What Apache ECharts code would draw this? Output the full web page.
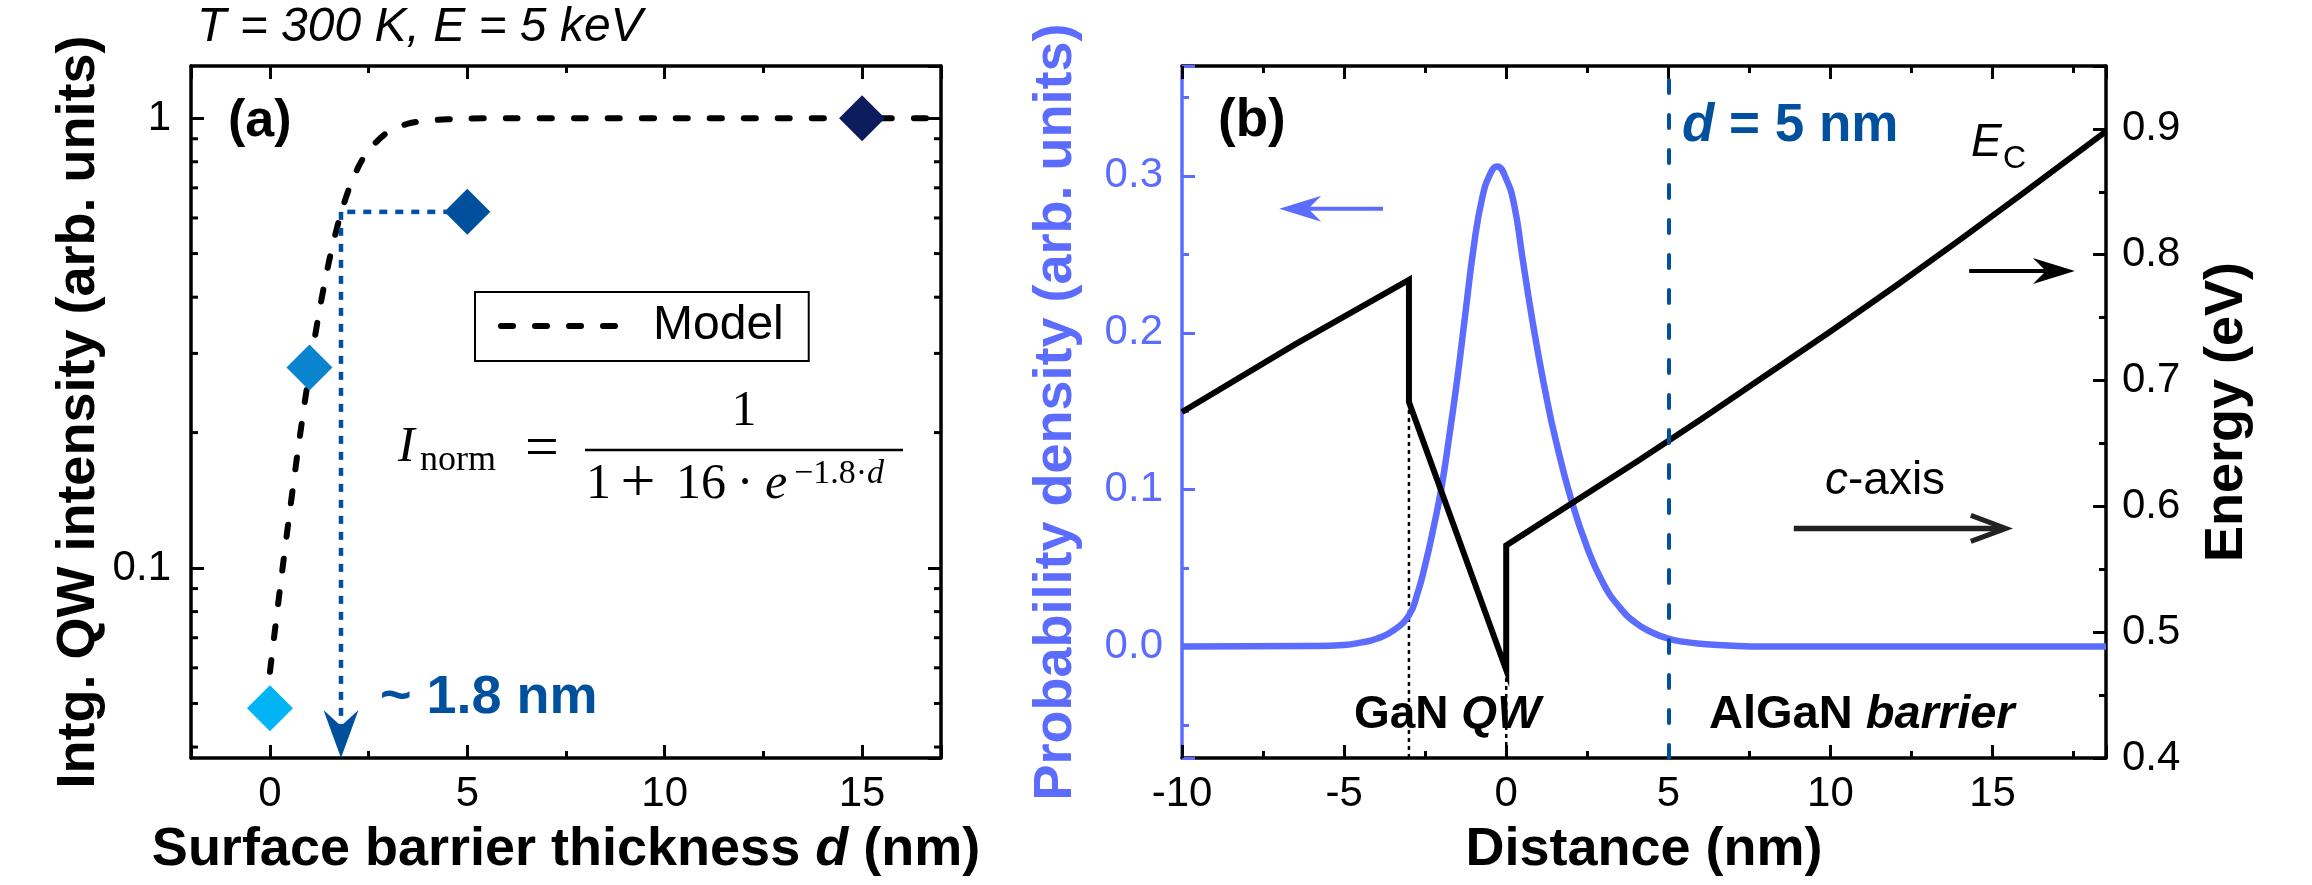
<!DOCTYPE html>
<html><head><meta charset="utf-8">
<script src="https://cdn.jsdelivr.net/npm/echarts@6/dist/echarts.min.js"></script>
<style>html,body{margin:0;padding:0;background:#fff}#c{width:2312px;height:885px}</style>
</head><body><div id="c"></div>
<script>
// ---------- Panel (a) data ----------
const thicknessD = [0, 1, 5, 15];
const intensityI = [0.0488, 0.279, 0.619, 1.0];
const modelD = [0, 0.25, 0.5, 0.75, 1, 1.25, 1.5, 1.75, 2, 2.25, 2.5, 3, 3.5, 4, 5, 6, 8, 10, 12.5, 15, 17];
const modelI = [0.0588, 0.0893, 0.133, 0.194, 0.274, 0.372, 0.482, 0.593, 0.696, 0.782, 0.849, 0.933, 0.972, 0.988, 0.998, 1.0, 1.0, 1.0, 1.0, 1.0, 1.0];
const markerD = 1.8;
const markerI = 0.619;
const logMinorTicks = [0.04, 0.05, 0.06, 0.07, 0.08, 0.09, 0.2, 0.3, 0.4, 0.5, 0.6, 0.7, 0.8, 0.9];
const rangeA = { xMin: -2, xMax: 17, yMin: 0.0378, yMax: 1.306 };

// ---------- Panel (b) data ----------
const distPD = [-10, -6, -5, -4.5, -4, -3.5, -3, -2.75, -2.5, -2.25, -2, -1.75, -1.5, -1.25, -1, -0.75, -0.5, -0.28, 0, 0.25, 0.5, 0.75, 1, 1.25, 1.5, 2, 2.5, 3, 3.5, 4, 4.5, 5, 5.5, 6, 7, 8, 18.5];
const probPD = [0, 0.0003, 0.001, 0.0025, 0.005, 0.010, 0.020, 0.033, 0.052, 0.075, 0.101, 0.135, 0.172, 0.214, 0.255, 0.285, 0.301, 0.306, 0.298, 0.281, 0.248, 0.215, 0.185, 0.158, 0.134, 0.094, 0.063, 0.040, 0.025, 0.015, 0.009, 0.005, 0.003, 0.0018, 0.0005, 0, 0];
const distEc = [-10, -6.5, -3, -3, 0, 0, 2, 4, 6, 8, 10, 12, 14, 16, 18.5];
const energyEc = [0.675, 0.729, 0.780, 0.683, 0.470, 0.569, 0.602, 0.635, 0.669, 0.704, 0.739, 0.775, 0.812, 0.850, 0.898];
const qwEdges = [-3, 0];
const qwEdgeEc = [0.683, 0.470];
const barrierD = 5;
const rangeB = { xMin: -10, xMax: 18.5, pMin: -0.071, pMax: 0.37, eMin: 0.4, eMax: 0.95 };
// annotation arrows: [x1, y1, x2, y2]
const arrowPD = [[-3.8, 0.279, -7.0, 0.279]];
const arrowEc = [[14.28, 0.787, 17.54, 0.787]];
const arrowCaxis = [[8.87, 0.5825, 15.41, 0.5825]];

// ---------- styles ----------
const SANS = 'Liberation Sans, Arial, sans-serif';
const SERIF = 'Liberation Serif, Times New Roman, serif';
const DARKBLUE = '#01509d';
const PDBLUE = '#5b6cff';
const diamondColors = ['#00b4f5', '#0a84cf', '#01509d', '#0c1c5c'];

const chart = echarts.init(document.getElementById('c'), null, { renderer: 'canvas' });

function tickCfg(color) {
  return {
    axisLine: { onZero: false, lineStyle: { color: color, width: 3.5 } },
    axisTick: { inside: true, length: 13, lineStyle: { color: color, width: 3 } },
    splitLine: { show: false }
  };
}
function labelCfg(color, margin, extra) {
  return Object.assign({ color: color, fontSize: 42, fontFamily: SANS, margin: margin, lineHeight: 42 }, extra || {});
}
function nameStyle(color) {
  return {
    color: color, fontSize: 54, fontWeight: 'bold', fontFamily: SANS, lineHeight: 60,
    rich: { i: { color: color, fontSize: 54, fontWeight: 'bold', fontStyle: 'italic', fontFamily: SANS, lineHeight: 60 } }
  };
}

function arrowSeries(xi, yi, data, color, width, head, opts) {
  opts = opts || {};
  return {
    type: 'custom', xAxisIndex: xi, yAxisIndex: yi, silent: true, z: 6,
    data: data, encode: { x: [0, 2], y: [1, 3] },
    renderItem: function (params, api) {
      const p1 = api.coord([api.value(0), api.value(1)]);
      const p2 = api.coord([api.value(2), api.value(3)]);
      const dx = p2[0] - p1[0], dy = p2[1] - p1[1], len = Math.hypot(dx, dy);
      const ux = dx / len, uy = dy / len, nx = -uy, ny = ux;
      const L = head[0], W = head[1], N = head[2];
      const bx = p2[0] - ux * L, by = p2[1] - uy * L;
      const mx = p2[0] - ux * N, my = p2[1] - uy * N;
      const children = [];
      if (opts.open) {
        children.push({ type: 'line', shape: { x1: p1[0], y1: p1[1], x2: p2[0] - ux * 2, y2: p2[1] - uy * 2 }, style: { stroke: color, lineWidth: width } });
        children.push({ type: 'polyline', shape: { points: [[bx + nx * W, by + ny * W], [p2[0], p2[1]], [bx - nx * W, by - ny * W]] }, style: { stroke: color, lineWidth: opts.headWidth || width, fill: null, lineJoin: 'miter' } });
      } else {
        children.push({ type: 'line', shape: { x1: p1[0], y1: p1[1], x2: mx, y2: my }, style: { stroke: color, lineWidth: width, lineDash: opts.dash || null } });
        children.push({ type: 'polygon', shape: { points: [[p2[0], p2[1]], [bx + nx * W, by + ny * W], [mx, my], [bx - nx * W, by - ny * W]] }, style: { fill: color } });
      }
      return { type: 'group', children: children };
    }
  };
}

function gtext(x, base, text, o) {
  const size = o.size;
  const st = {
    text: text, fill: o.color || '#000', fontSize: size, fontWeight: o.weight || 'normal',
    fontStyle: o.style || 'normal', fontFamily: o.family || SANS, align: o.align || 'left', verticalAlign: 'middle'
  };
  if (o.rich) st.rich = o.rich;
  const y = o.center ? base : base - 0.3 * size;
  return { type: 'text', x: x, y: y, silent: true, z: 10, style: st };
}
function richTok(size, weight, style, color, family) {
  return { fontSize: size, fontWeight: weight, fontStyle: style, fill: color, color: color, fontFamily: family || SANS };
}

const graphics = [
  gtext(197, 42, 'T = 300 K, E = 5 keV', { size: 48, style: 'italic' }),
  gtext(228, 137, '(a)', { size: 52, weight: 'bold' }),
  gtext(1218, 137, '(b)', { size: 53, weight: 'bold' }),
  gtext(380, 714, '~ 1.8 nm', { size: 54, weight: 'bold', color: DARKBLUE }),
  gtext(1682, 142, '{i|d} = 5 nm', { size: 53, weight: 'bold', color: DARKBLUE, rich: { i: richTok(53, 'bold', 'italic', DARKBLUE) } }),
  gtext(1971, 157, 'E', { size: 46, style: 'italic' }),
  gtext(2003, 169, 'C', { size: 32 }),
  gtext(1825, 495, '{i|c}-axis', { size: 46, rich: { i: richTok(46, 'normal', 'italic', '#000') } }),
  gtext(1354, 729, 'GaN {i|QW}', { size: 46, weight: 'bold', rich: { i: richTok(46, 'bold', 'italic', '#000') } }),
  gtext(1709, 729, 'AlGaN {i|barrier}', { size: 47, weight: 'bold', rich: { i: richTok(47, 'bold', 'italic', '#000') } }),
  // formula
  gtext(398, 463, 'I', { size: 50, style: 'italic', family: SERIF }),
  gtext(420, 471, 'norm', { size: 36, family: SERIF }),
  gtext(542, 450, '=', { size: 60, family: SERIF, align: 'center', center: true }),
  { type: 'line', silent: true, z: 10, shape: { x1: 585, y1: 450, x2: 903, y2: 450 }, style: { stroke: '#000', lineWidth: 2.5 } },
  gtext(744, 427, '1', { size: 50, family: SERIF, align: 'center' }),
  gtext(586, 500, '1', { size: 50, family: SERIF }),
  gtext(638, 485, '+', { size: 62, family: SERIF, align: 'center', center: true }),
  gtext(676, 500, '16', { size: 50, family: SERIF }),
  gtext(745, 485, '·', { size: 50, family: SERIF, align: 'center', center: true }),
  gtext(765, 500, 'e', { size: 50, style: 'italic', family: SERIF }),
  gtext(794, 484, '−1.8·{i|d}', { size: 34, family: SERIF, rich: { i: richTok(34, 'normal', 'italic', '#000', SERIF) } })
];

const option = {
  animation: false,
  backgroundColor: '#fff',
  grid: [
    { left: 191, top: 66, width: 750, height: 694, containLabel: false },
    { left: 1182, top: 66, width: 924, height: 694, containLabel: false }
  ],
  legend: {
    data: ['Model'], left: 475, top: 292, itemWidth: 120, itemHeight: 20,
    padding: [10, 25, 11, 20], borderColor: '#000', borderWidth: 2, backgroundColor: '#fff',
    selectedMode: false, z: 8,
    itemStyle: { opacity: 0 },
    lineStyle: { color: '#000', width: 6, type: [12, 22], cap: 'round', dashOffset: -3 },
    textStyle: { fontSize: 48, fontFamily: SANS, color: '#000', padding: [0, 0, 0, 30], lineHeight: 48 }
  },
  xAxis: [
    Object.assign({
      type: 'value', gridIndex: 0, position: 'bottom', min: rangeA.xMin, max: rangeA.xMax, splitNumber: 4,
      minorTick: { show: true, splitNumber: 2, length: 7, lineStyle: { color: '#000', width: 3 } },
      axisLabel: labelCfg('#000', 15, { showMinLabel: false, showMaxLabel: false }),
      name: 'Surface barrier thickness {i|d} (nm)', nameLocation: 'middle', nameGap: 61, nameTextStyle: nameStyle('#000')
    }, tickCfg('#000')),
    Object.assign({
      type: 'value', gridIndex: 0, position: 'top', min: rangeA.xMin, max: rangeA.xMax, splitNumber: 4,
      minorTick: { show: true, splitNumber: 2, length: 7, lineStyle: { color: '#000', width: 3 } },
      axisLabel: { show: false }
    }, tickCfg('#000')),
    Object.assign({
      type: 'value', gridIndex: 1, position: 'bottom', min: rangeB.xMin, max: rangeB.xMax, interval: 5,
      minorTick: { show: true, splitNumber: 2, length: 7, lineStyle: { color: '#000', width: 3 } },
      axisLabel: labelCfg('#000', 15, { showMaxLabel: false }),
      name: 'Distance (nm)', nameLocation: 'middle', nameGap: 62, nameTextStyle: nameStyle('#000')
    }, tickCfg('#000')),
    Object.assign({
      type: 'value', gridIndex: 1, position: 'top', min: rangeB.xMin, max: rangeB.xMax, interval: 5,
      minorTick: { show: true, splitNumber: 2, length: 7, lineStyle: { color: '#000', width: 3 } },
      axisLabel: { show: false }
    }, tickCfg('#000'))
  ],
  yAxis: [
    Object.assign({
      type: 'log', logBase: 10, gridIndex: 0, position: 'left', min: rangeA.yMin, max: rangeA.yMax,
      axisLabel: labelCfg('#000', 20, { showMinLabel: false, showMaxLabel: false }),
      name: 'Intg. QW intensity (arb. units)', nameLocation: 'middle', nameGap: 75, nameTextStyle: nameStyle('#000')
    }, tickCfg('#000')),
    Object.assign({
      type: 'log', logBase: 10, gridIndex: 0, position: 'right', min: rangeA.yMin, max: rangeA.yMax,
      axisLabel: { show: false }
    }, tickCfg('#000')),
    Object.assign({
      type: 'value', gridIndex: 1, position: 'left', min: rangeB.pMin, max: rangeB.pMax,
      minorTick: { show: true, splitNumber: 2, length: 7, lineStyle: { color: PDBLUE, width: 3 } },
      axisLabel: labelCfg(PDBLUE, 19, { showMinLabel: false, showMaxLabel: false, formatter: v => v.toFixed(1) }),
      name: 'Probability density (arb. units)', nameLocation: 'middle', nameGap: 96, nameTextStyle: nameStyle(PDBLUE)
    }, tickCfg(PDBLUE)),
    Object.assign({
      type: 'value', gridIndex: 1, position: 'right', min: rangeB.eMin, max: rangeB.eMax, interval: 0.1,
      minorTick: { show: true, splitNumber: 2, length: 7, lineStyle: { color: '#000', width: 3 } },
      axisLabel: labelCfg('#000', 16, { showMaxLabel: false, formatter: v => v.toFixed(1) }),
      name: 'Energy (eV)', nameLocation: 'middle', nameGap: 91, nameTextStyle: nameStyle('#000')
    }, tickCfg('#000'))
  ],
  series: [
    {
      name: 'Model', type: 'line', xAxisIndex: 0, yAxisIndex: 0, symbol: 'none', smooth: 0.3, z: 3,
      data: modelD.map((d, i) => [d, modelI[i]]),
      lineStyle: { color: '#000', width: 6, type: [12, 22], cap: 'round' }, itemStyle: { color: '#000' }
    },
    {
      type: 'line', xAxisIndex: 0, yAxisIndex: 0, symbol: 'none', silent: true, z: 2,
      data: [[thicknessD[2], markerI], [markerD, markerI]],
      lineStyle: { color: DARKBLUE, width: 4.5, type: [8, 8] }
    },
    arrowSeries(0, 0, [[markerD, markerI, markerD, rangeA.yMin]], DARKBLUE, 4.5, [48, 17.5, 32], { dash: [8, 8] }),
    {
      type: 'scatter', xAxisIndex: 0, yAxisIndex: 0, symbol: 'diamond', symbolSize: 46, z: 7,
      data: thicknessD.map((d, i) => ({ value: [d, intensityI[i]], itemStyle: { color: diamondColors[i], opacity: 1 } }))
    },
    {
      type: 'custom', xAxisIndex: 0, yAxisIndex: 0, silent: true, z: 9,
      data: logMinorTicks.map(v => [rangeA.xMin, v]), encode: { x: 0, y: 1 },
      renderItem: function (params, api) {
        const y = api.coord([api.value(0), api.value(1)])[1];
        const cs = params.coordSys;
        return {
          type: 'group', children: [
            { type: 'line', shape: { x1: cs.x, y1: y, x2: cs.x + 7, y2: y }, style: { stroke: '#000', lineWidth: 3 } },
            { type: 'line', shape: { x1: cs.x + cs.width, y1: y, x2: cs.x + cs.width - 7, y2: y }, style: { stroke: '#000', lineWidth: 3 } }
          ]
        };
      }
    },
    {
      type: 'line', xAxisIndex: 2, yAxisIndex: 2, symbol: 'none', smooth: 0.5, z: 3,
      data: distPD.map((d, i) => [d, probPD[i]]),
      lineStyle: { color: PDBLUE, width: 6.5, join: 'round' },
      markLine: {
        silent: true, symbol: ['none', 'none'], label: { show: false },
        lineStyle: { color: DARKBLUE, width: 4, type: [13, 22], cap: 'round' },
        data: [{ xAxis: barrierD }]
      }
    },
    {
      type: 'line', xAxisIndex: 2, yAxisIndex: 3, symbol: 'none', z: 4,
      data: distEc.map((d, i) => [d, energyEc[i]]),
      lineStyle: { color: '#000', width: 6, join: 'miter' }
    },
    {
      type: 'line', xAxisIndex: 2, yAxisIndex: 3, symbol: 'none', z: 2, silent: true,
      data: [[qwEdges[0], qwEdgeEc[0]], [qwEdges[0], rangeB.eMin]],
      lineStyle: { color: '#000', width: 2.5, type: [4, 4] }
    },
    {
      type: 'line', xAxisIndex: 2, yAxisIndex: 3, symbol: 'none', z: 2, silent: true,
      data: [[qwEdges[1], qwEdgeEc[1]], [qwEdges[1], rangeB.eMin]],
      lineStyle: { color: '#000', width: 2.5, type: [4, 4] }
    },
    arrowSeries(2, 2, arrowPD, PDBLUE, 4, [42, 13, 29]),
    arrowSeries(2, 3, arrowEc, '#000', 4, [42, 13, 29]),
    arrowSeries(2, 3, arrowCaxis, '#222', 5.5, [35, 13, 0], { open: true, headWidth: 5 })
  ],
  graphic: { elements: graphics }
};
chart.setOption(option);
</script>
</body></html>
